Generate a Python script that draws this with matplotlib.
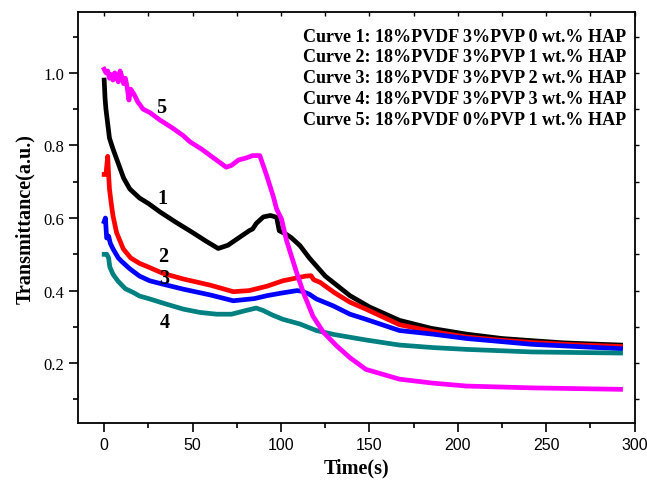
import matplotlib
matplotlib.use('Agg')
import matplotlib.pyplot as plt
from matplotlib.ticker import MultipleLocator

# curve 1: 18%PVDF 3%PVP 0 wt.% HAP
t1 = [0, 0.5, 1, 2, 3, 5, 8, 11, 14.5, 20, 25, 31.5, 40, 50, 58, 64.5, 70, 76, 82, 84, 86,
      90, 94, 97.5, 99, 103, 106, 110.7, 116, 125, 139, 150, 167, 185, 205, 225, 242, 260, 275, 292]
y1 = [0.98, 0.93, 0.9, 0.86, 0.82, 0.79, 0.75, 0.71, 0.68, 0.655, 0.64, 0.617, 0.59, 0.56, 0.535,
      0.516, 0.525, 0.545, 0.565, 0.57, 0.585, 0.603, 0.607, 0.602, 0.565, 0.555, 0.545, 0.524,
      0.49, 0.44, 0.386, 0.355, 0.318, 0.296, 0.28, 0.268, 0.262, 0.256, 0.253, 0.25]

# curve 2: 18%PVDF 3%PVP 1 wt.% HAP
t2 = [0, 1, 2, 2.5, 3, 4, 5, 7, 10.8, 15, 20, 25, 33, 44.7, 60, 73, 82, 92, 101, 110, 114, 117,
      118.5, 122, 130, 139, 148, 167, 186, 205, 225, 242, 265, 292]
y2 = [0.72, 0.72, 0.77, 0.72, 0.68, 0.64, 0.606, 0.56, 0.515, 0.49, 0.475, 0.465, 0.448, 0.432,
      0.415, 0.397, 0.4, 0.412, 0.427, 0.436, 0.44, 0.441, 0.43, 0.423, 0.395, 0.368, 0.349,
      0.306, 0.287, 0.272, 0.263, 0.257, 0.251, 0.246]

# curve 3: 18%PVDF 3%PVP 2 wt.% HAP
t3 = [0, 0.7, 1.4, 2.5, 3.5, 5, 8, 10, 14.5, 20, 25.8, 33, 44.7, 60, 73, 85, 92, 100, 109, 112,
      116, 120, 129.5, 139, 148, 167, 186, 205, 242, 292]
y3 = [0.59, 0.6, 0.545, 0.55, 0.53, 0.515, 0.49, 0.48, 0.46, 0.44, 0.427, 0.418, 0.404, 0.388,
      0.372, 0.378, 0.386, 0.393, 0.4, 0.398, 0.39, 0.377, 0.358, 0.335, 0.321, 0.29, 0.28,
      0.268, 0.252, 0.24]

# curve 4: 18%PVDF 3%PVP 3 wt.% HAP
t4 = [0, 1.5, 2.5, 3.2, 5, 8, 12, 16.4, 20, 25.8, 35, 44.7, 54, 63.6, 72, 80, 86, 90, 95, 101,
      110.7, 120, 130, 148, 167, 186, 205, 242, 292]
y4 = [0.5, 0.5, 0.49, 0.465, 0.445, 0.425, 0.405, 0.395, 0.385, 0.377, 0.363, 0.349, 0.34,
      0.335, 0.335, 0.345, 0.352, 0.345, 0.333, 0.321, 0.308, 0.29, 0.279, 0.264, 0.25, 0.243,
      0.238, 0.231, 0.228]

# curve 5: 18%PVDF 0%PVP 1 wt.% HAP
t5 = [0, 1, 2, 3, 4, 5, 6, 7, 8, 9, 10, 11, 12, 13, 14, 15, 17, 19, 22, 26, 31.5, 38, 44.7,
      48.5, 55, 62, 69, 72, 76, 80, 84, 88, 91.9, 95.6, 97.5, 100.3, 103, 108.8, 112.6, 118, 124,
      131.4, 139, 148, 167, 186, 205, 242, 292]
y5 = [1.01, 1.0, 1.005, 0.985, 0.995, 0.98, 1.0, 0.99, 0.975, 1.005, 0.99, 0.97, 0.985, 0.96,
      0.925, 0.955, 0.94, 0.92, 0.9, 0.89, 0.87, 0.85, 0.827, 0.81, 0.79, 0.765, 0.74, 0.745,
      0.76, 0.765, 0.772, 0.772, 0.717, 0.66, 0.625, 0.597, 0.54, 0.45, 0.395, 0.33, 0.285,
      0.248, 0.215, 0.183, 0.156, 0.145, 0.137, 0.132, 0.128]

legend_lines = ['Curve 1: 18%PVDF 3%PVP 0 wt.% HAP',
                'Curve 2: 18%PVDF 3%PVP 1 wt.% HAP',
                'Curve 3: 18%PVDF 3%PVP 2 wt.% HAP',
                'Curve 4: 18%PVDF 3%PVP 3 wt.% HAP',
                'Curve 5: 18%PVDF 0%PVP 1 wt.% HAP']
curve_tags = ['1', '2', '3', '4', '5']
tag_x = [33, 33.5, 34, 34, 32.5]
tag_y = [0.654, 0.496, 0.434, 0.313, 0.905]

serif = 'Liberation Serif'
sans = 'Liberation Sans'

fig = plt.figure(figsize=(6.47, 4.89), dpi=100)
ax = fig.add_axes([0.120, 0.132, 0.861, 0.841])

lw = 3.4
ax.plot(t1, y1, color='black', lw=lw)
ax.plot(t2, y2, color='#ff0000', lw=lw)
ax.plot(t3, y3, color='#0000ff', lw=lw)
ax.plot(t4, y4, color='#008080', lw=lw)
ax.plot(t5, y5, color='#ff00ff', lw=lw)

for tag, x, y in zip(curve_tags, tag_x, tag_y):
    ax.text(x, y, tag, fontfamily=serif, fontweight='bold', fontsize=14.5,
            ha='center', va='center')

for i, line in enumerate(legend_lines):
    ax.text(0.4045, 0.942 - i * 0.0505, line, transform=ax.transAxes, fontfamily=serif,
            fontweight='bold', fontsize=13, ha='left', va='center')

ax.set_xlim(-15, 300)
ax.set_ylim(0.034, 1.167)
ax.xaxis.set_minor_locator(MultipleLocator(25))
ax.yaxis.set_minor_locator(MultipleLocator(0.1))
ax.set_yticks([0.2, 0.4, 0.6, 0.8, 1.0])
ax.set_yticklabels(['0.2', '0.4', '0.6', '0.8', '1.0'], fontfamily=serif, fontsize=12)
ax.set_xticks([0, 50, 100, 150, 200, 250, 300])
ax.set_xticklabels(['0', '50', '100', '150', '200', '250', '300'], fontfamily=sans, fontsize=11.5)

ax.tick_params(which='major', direction='out', length=6.5, width=1.2, pad=3)
ax.tick_params(which='minor', direction='out', length=3.5, width=1.2)
for s in ax.spines.values():
    s.set_linewidth(1.3)

# short ticks on the top and right axes
top = ax.secondary_xaxis('top')
top.set_xticks(range(0, 301, 25))
top.tick_params(direction='in', length=3, width=1, labeltop=False)
top.spines['top'].set_visible(False)
right = ax.secondary_yaxis('right')
right.set_yticks([0.1, 0.2, 0.3, 0.4, 0.5, 0.6, 0.7, 0.8, 0.9, 1.0, 1.1])
right.tick_params(direction='out', length=3, width=1, labelright=False)
right.spines['right'].set_visible(False)

ax.set_xlabel('Time(s)', fontfamily=serif, fontweight='bold', fontsize=14.5, labelpad=4)
ax.set_ylabel('Transmittance(a.u.)', fontfamily=serif, fontweight='bold', fontsize=14.5, labelpad=6)

fig.savefig('out.png', dpi=100)
